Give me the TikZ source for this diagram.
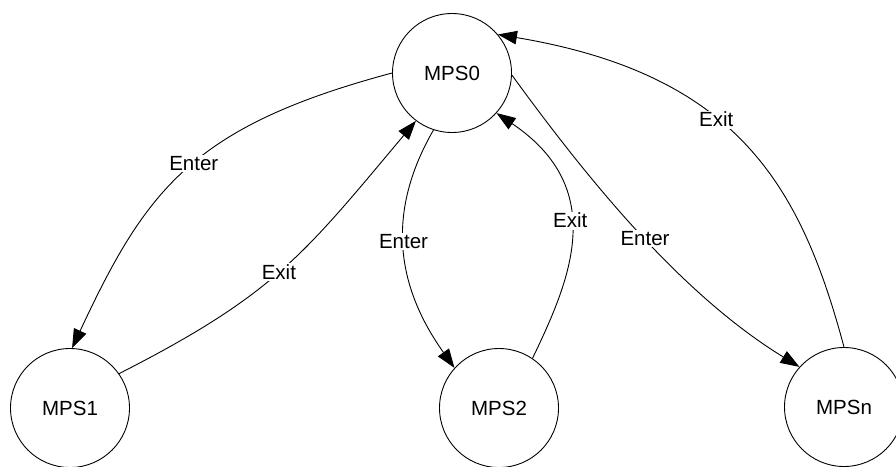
\documentclass[tikz,border=0pt]{standalone}
\usepackage{fontspec}
\setmainfont{Liberation Sans}
\usetikzlibrary{arrows.meta}
\tikzset{
  state/.style={draw, circle, minimum size=119pt, inner sep=0pt, line width=0.9pt, font=\fontsize{20.5}{24}\selectfont},
  edge/.style={draw, line width=0.9pt, -{Triangle[length=19pt,width=13.5pt]}},
  lbl/.style={fill=white, inner sep=1.5pt, font=\fontsize{20.5}{24}\selectfont}
}
\begin{document}
\begin{tikzpicture}[x=1pt,y=1pt]
\useasboundingbox (0,0) rectangle (896,-466);
\clip (0,0) rectangle (896,-466);
\fill[white] (0,0) rectangle (896,-466);
\node[state] (m0) at (452,-73) {MPS0};
\node[state] (m1) at (70,-408) {MPS1};
\node[state] (m2) at (499,-408) {MPS2};
\node[state] (mn) at (844,-407) {MPSn};
% Enter m0 -> m1
\draw[edge] (m0.180) .. controls +(195:206) and +(65:176) .. node[lbl, pos=0.47] {Enter} (m1.88);
% Exit m1 -> m0
\draw[edge] (m1.35) .. controls +(27:175) and +(230:175) .. node[lbl, pos=0.48] {Exit} (m0.233);
% Enter m0 -> m2
\draw[edge] (m0.252) .. controls +(240:98) and +(125.4:98) .. node[lbl, pos=0.46] {Enter} (m2.138);
% Exit m2 -> m0
\draw[edge] (m2.56) .. controls +(64.4:85) and +(-34:137) .. node[lbl, pos=0.56] {Exit} (m0.318);
% Enter m0 -> mn
\draw[edge] (m0.358) .. controls +(-54:136) and +(148.5:136) .. node[lbl, pos=0.51] {Enter} (mn.138);
% Exit mn -> m0
\draw[edge] (mn.90) .. controls +(105:167) and +(-9.5:243) .. node[lbl, pos=0.585] {Exit} (m0.40);
\end{tikzpicture}
\end{document}
